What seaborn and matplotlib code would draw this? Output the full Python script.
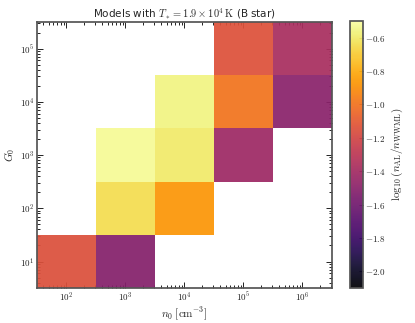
import seaborn as sns
import matplotlib
matplotlib.use("Agg")
import matplotlib.pyplot as plt
from matplotlib.ticker import FuncFormatter, LogLocator
import numpy as np

# grid of models: density n0 (columns) and FUV field G0 (rows)
n0_values = [1e2, 1e3, 1e4, 1e5, 1e6]
G0_values = [1e1, 1e2, 1e3, 1e4, 1e5]

# log10(n_AL / n_WWML) per model, rows = G0, cols = n0 (nan = no model)
ratio = [
    [-1.15, -1.52, np.nan, np.nan, np.nan],
    [np.nan, -0.64, -0.87, np.nan, np.nan],
    [np.nan, -0.53, -0.60, -1.42, np.nan],
    [np.nan, np.nan, -0.56, -1.00, -1.50],
    [np.nan, np.nan, np.nan, -1.14, -1.38],
]

sns.set_theme(style="ticks")
plt.rcParams["font.family"] = ["DejaVu Sans"]
plt.rcParams["mathtext.fontset"] = "cm"
plt.rcParams["xtick.direction"] = "in"
plt.rcParams["ytick.direction"] = "in"

# cell edges half a decade either side of each grid point
ln = np.log10(n0_values)
lg = np.log10(G0_values)
x_edges = 10 ** np.append(ln - 0.5, ln[-1] + 0.5)
y_edges = 10 ** np.append(lg - 0.5, lg[-1] + 0.5)

fig = plt.figure(figsize=(4.15, 3.23), dpi=100)
ax = fig.add_axes([0.089, 0.108, 0.711, 0.824])
cax = fig.add_axes([0.843, 0.108, 0.031, 0.827])

cmap = sns.color_palette("inferno", as_cmap=True)
mesh = ax.pcolormesh(x_edges, y_edges, np.ma.masked_invalid(ratio),
                     cmap=cmap, vmin=-2.1, vmax=-0.5, alpha=0.93)
ax.set_xscale("log")
ax.set_yscale("log")
ax.set_xlim(x_edges[0], x_edges[-1])
ax.set_ylim(y_edges[0], y_edges[-1])

pow_fmt = FuncFormatter(lambda v, p: r"$10^{%d}$" % round(np.log10(v)))
for axis in (ax.xaxis, ax.yaxis):
    axis.set_major_locator(LogLocator(base=10, numticks=12))
    axis.set_minor_locator(LogLocator(base=10, subs=np.arange(2, 10), numticks=12))
    axis.set_major_formatter(pow_fmt)

ax.tick_params(which="both", top=True, right=True, labelsize=6.5,
               colors="#222222", pad=2, width=0.7)
ax.tick_params(which="major", length=4)
ax.tick_params(which="minor", length=2)
for s in ax.spines.values():
    s.set_color("#555555")

ax.set_xlabel(r"$n_0\;[\mathrm{cm}^{-3}]$", fontsize=8, labelpad=1)
ax.set_ylabel(r"$G_0$", fontsize=8, labelpad=2)
ax.set_title(r"Models with $T_\ast = 1.9 \times 10^4\,\mathrm{K}$ (B star)",
             fontsize=7.5, pad=3)

cb = fig.colorbar(mesh, cax=cax)
cb.set_ticks([-0.6, -0.8, -1.0, -1.2, -1.4, -1.6, -1.8, -2.0])
cb.ax.tick_params(labelsize=6.5, direction="in", length=3, pad=2, width=0.7)
cb.outline.set_edgecolor("#555555")
cb.set_label(r"$\log_{10}(n_{\rm AL}/n_{\rm WWML})$", fontsize=8, labelpad=3)
cb.ax.yaxis.set_ticklabels([r"$-%.1f$" % abs(t) for t in cb.get_ticks()])

fig.savefig("out.png", dpi=100)
